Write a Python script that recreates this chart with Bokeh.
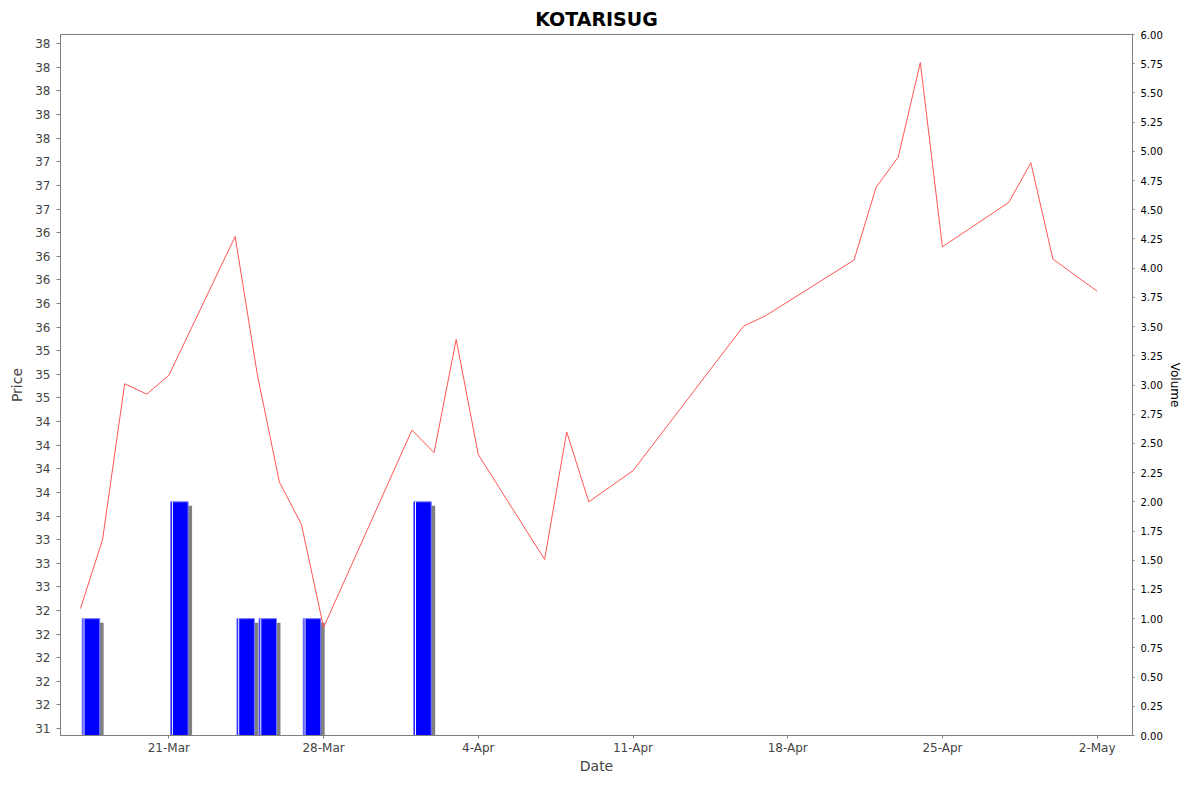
import pandas as pd
from bokeh.plotting import figure
from bokeh.models import Range1d, LinearAxis, FixedTicker, NumeralTickFormatter, ColumnDataSource
from bokeh.embed import file_html
from bokeh.resources import INLINE

# ---- data ----
title_text = "KOTARISUG"

price_dates = ["2025-03-17", "2025-03-18", "2025-03-19", "2025-03-20", "2025-03-21",
               "2025-03-24", "2025-03-25", "2025-03-26", "2025-03-27", "2025-03-28",
               "2025-04-01", "2025-04-02", "2025-04-03", "2025-04-04",
               "2025-04-07", "2025-04-08", "2025-04-09", "2025-04-11",
               "2025-04-16", "2025-04-17",
               "2025-04-21", "2025-04-22", "2025-04-23", "2025-04-24", "2025-04-25",
               "2025-04-28", "2025-04-29", "2025-04-30", "2025-05-02"]
price_values = [32.52, 33.25, 34.90, 34.79, 34.99,
                36.46, 35.00, 33.86, 33.41, 32.32,
                34.41, 34.17, 35.37, 34.15,
                33.04, 34.39, 33.65, 33.98,
                35.51, 35.62,
                36.21, 36.98, 37.30, 38.30, 36.35,
                36.82, 37.24, 36.22, 35.88]

volume_dates = ["2025-03-17", "2025-03-21", "2025-03-24", "2025-03-25", "2025-03-27", "2025-04-01"]
volume_values = [1, 2, 1, 1, 1, 2]

x_tick_dates = ["2025-03-21", "2025-03-28", "2025-04-04", "2025-04-11",
                "2025-04-18", "2025-04-25", "2025-05-02"]
x_tick_labels = ["21-Mar", "28-Mar", "4-Apr", "11-Apr", "18-Apr", "25-Apr", "2-May"]

price_tick_values = [31.25, 31.5, 31.75, 32.0, 32.25, 32.5, 32.75, 33.0, 33.25, 33.5,
                     33.75, 34.0, 34.25, 34.5, 34.75, 35.0, 35.25, 35.5, 35.75, 36.0,
                     36.25, 36.5, 36.75, 37.0, 37.25, 37.5, 37.75, 38.0, 38.25, 38.5]
price_tick_labels = ["31", "32", "32", "32", "32", "32", "33", "33", "33", "34",
                     "34", "34", "34", "34", "35", "35", "35", "36", "36", "36",
                     "36", "36", "37", "37", "37", "38", "38", "38", "38", "38"]

volume_tick_values = [0.0, 0.25, 0.5, 0.75, 1.0, 1.25, 1.5, 1.75, 2.0, 2.25, 2.5, 2.75,
                      3.0, 3.25, 3.5, 3.75, 4.0, 4.25, 4.5, 4.75, 5.0, 5.25, 5.5, 5.75, 6.0]

# ---- helpers ----
DAY = pd.Timedelta(days=1)
def ms(ts):
    return pd.Timestamp(ts).value // 10**6

p_dates = pd.to_datetime(price_dates)
v_dates = pd.to_datetime(volume_dates)

price_src = ColumnDataSource(dict(x=p_dates, y=price_values))

bar_src = ColumnDataSource(dict(
    left=v_dates + 0.08 * DAY,
    right=v_dates + 0.87 * DAY,
    top=volume_values,
    bottom=[0] * len(volume_values),
    inner=v_dates + 0.16 * DAY,
    shadow_left=v_dates + 0.26 * DAY,
    shadow_right=v_dates + 1.05 * DAY,
    shadow_top=[v - 0.034 for v in volume_values],
))

ref = pd.Timestamp("2025-03-21")
x_range = Range1d(ref - 4.903 * DAY, ref + 43.60 * DAY)
y_range = Range1d(31.176, 38.598)

p = figure(width=1184, height=776, x_axis_type="datetime",
           x_range=x_range, y_range=y_range,
           output_backend="svg", toolbar_location=None,
           min_border_left=60, min_border_right=46,
           min_border_top=34, min_border_bottom=39,
           background_fill_color="white", border_fill_color="white")

p.extra_y_ranges = {"vol": Range1d(0, 6)}

p.title.text = title_text
p.title.align = "center"
p.title.text_font = "DejaVu Sans"
p.title.text_font_style = "bold"
p.title.text_font_size = "19px"
p.title.text_color = "black"
p.title.standoff = 9
p.title.offset = 0

p.outline_line_color = "#808080"
p.outline_line_width = 1
p.grid.visible = False

# shadows, bars
p.quad(left="shadow_left", right="shadow_right", top="shadow_top", bottom="bottom",
       source=bar_src, y_range_name="vol", fill_color="#808080", line_color=None)
p.quad(left="left", right="right", top="top", bottom="bottom",
       source=bar_src, y_range_name="vol", fill_color="#0000ff",
       line_color="#7777ff", line_width=1)
p.segment(x0="inner", x1="inner", y0="bottom", y1="top", source=bar_src,
          y_range_name="vol", line_color="white", line_width=1)

# price line
p.line("x", "y", source=price_src, line_color="#ff5555", line_width=1)

# x axis
xa = p.xaxis[0]
xa.ticker = FixedTicker(ticks=[ms(d) for d in x_tick_dates])
xa.major_label_overrides = {ms(d): lab for d, lab in zip(x_tick_dates, x_tick_labels)}
xa.axis_label = "Date"

# left axis
ya = p.yaxis[0]
ya.ticker = FixedTicker(ticks=price_tick_values)
ya.major_label_overrides = {v: lab for v, lab in zip(price_tick_values, price_tick_labels)}
ya.axis_label = "Price"

# right axis
ra = LinearAxis(y_range_name="vol", axis_label="Volume")
ra.ticker = FixedTicker(ticks=volume_tick_values)
ra.formatter = NumeralTickFormatter(format="0.00")
p.add_layout(ra, "right")

for ax in [xa, ya, ra]:
    ax.axis_line_color = "#808080"
    ax.major_tick_line_color = "#808080"
    ax.minor_tick_line_color = None
    ax.major_tick_in = 0
    ax.major_label_text_font = "DejaVu Sans"
    ax.axis_label_text_font = "DejaVu Sans"
    ax.axis_label_text_font_style = "normal"

for ax in [xa, ya]:
    ax.major_label_text_font_size = "12px"
    ax.major_label_text_color = "#444444"
    ax.axis_label_text_font_size = "14px"
    ax.axis_label_text_color = "#444444"

xa.major_tick_out = 3
xa.major_label_standoff = 2
xa.axis_label_standoff = 0
ya.major_tick_out = 4
ya.major_label_standoff = 6
ya.axis_label_standoff = 7

ra.major_tick_out = 2
ra.major_label_standoff = 6
ra.major_label_text_font_size = "10px"
ra.major_label_text_color = "black"
ra.axis_label_text_font_size = "12px"
ra.axis_label_text_color = "black"
ra.axis_label_standoff = 2

open("out.html", "w").write(file_html(p, INLINE))
